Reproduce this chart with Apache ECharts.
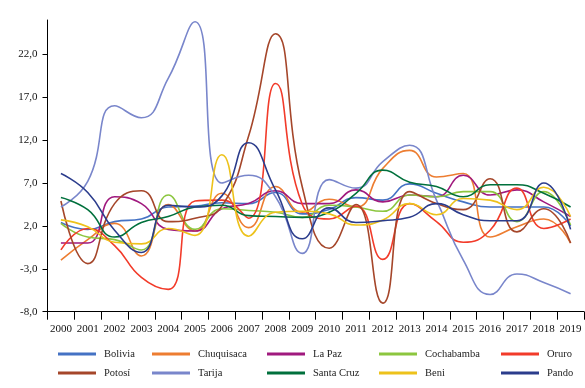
<!DOCTYPE html>
<html>
<head>
<meta charset="utf-8">
<script src="https://cdn.jsdelivr.net/npm/echarts@6/dist/echarts.min.js"></script>
<style>
html,body{margin:0;padding:0;background:#fff;}
#chart{width:585px;height:388px;}
</style>
</head>
<body>
<div id="chart"></div>
<script>
var years = ['2000','2001','2002','2003','2004','2005','2006','2007','2008','2009','2010','2011','2012','2013','2014','2015','2016','2017','2018','2019'];
var yTicks = [-8, -3, 2, 7, 12, 17, 22];

var bolivia    = [2.4, 1.6, 2.5, 2.8, 4.2, 4.3, 4.7, 4.6, 5.9, 3.4, 3.9, 5.3, 5.0, 6.9, 5.8, 4.8, 4.2, 4.2, 4.2, 2.0];
var chuquisaca = [-2.0, 0.4, 2.3, -1.5, 4.5, 1.4, 5.8, 1.8, 6.6, 3.6, 5.1, 4.2, 8.7, 10.8, 7.7, 8.1, 0.7, 1.9, 2.8, 0.0];
var lapaz      = [0.0, 0.0, 5.4, 4.6, 1.6, 1.4, 4.0, 4.6, 6.1, 4.6, 4.6, 6.2, 4.8, 5.6, 5.4, 7.9, 5.6, 6.2, 4.8, 3.1];
var cochabamba = [2.3, 0.7, 0.4, -0.8, 5.6, 1.6, 4.0, 3.8, 3.6, 3.0, 4.4, 4.2, 3.7, 5.6, 5.4, 6.0, 6.0, 2.5, 6.0, 2.1];
var oruro      = [-0.8, 1.7, -0.3, -4.0, -5.4, 4.9, 5.0, 2.9, 18.6, 4.5, 2.8, 4.3, -1.9, 4.6, 2.5, 0.1, 1.5, 6.4, 1.7, 2.8];
var potosi     = [4.9, -2.4, 4.6, 6.1, 2.5, 2.9, 4.3, 12.5, 24.4, 6.5, -0.6, 4.5, -7.0, 6.0, 4.6, 3.9, 7.5, 1.3, 4.0, 0.0];
var tarija     = [4.2, 7.2, 16.0, 14.6, 19.2, 25.8, 7.0, 7.9, 5.4, -1.2, 7.4, 6.4, 9.5, 11.4, 5.0, -2.0, -6.0, -3.6, -4.6, -5.9];
var santacruz  = [5.3, 3.9, 0.7, 2.4, 3.1, 4.2, 4.4, 3.2, 3.1, 3.0, 3.6, 5.8, 8.5, 7.1, 6.6, 5.4, 6.8, 6.8, 5.8, 4.2];
var beni       = [2.7, 1.9, 0.1, -0.1, 1.7, 0.9, 10.3, 0.8, 3.6, 3.7, 3.4, 2.1, 2.7, 4.6, 3.3, 5.2, 5.0, 3.9, 6.5, 3.1];
var pando      = [8.1, 5.9, 1.5, -1.1, 4.4, 4.2, 5.5, 11.7, 6.2, 0.5, 4.1, 2.4, 2.6, 3.0, 4.6, 3.3, 2.6, 2.6, 7.0, 1.6];

var names  = ['Bolivia','Chuquisaca','La Paz','Cochabamba','Oruro','Potosí','Tarija','Santa Cruz','Beni','Pando'];
var values = [bolivia, chuquisaca, lapaz, cochabamba, oruro, potosi, tarija, santacruz, beni, pando];
var colors = ['#4472C4','#ED7D31','#A0197E','#8CC63F','#F23B2A','#A5462A','#7986CB','#00703C','#EDC21B','#2B3C8C'];

var FONT = '"Liberation Serif", "DejaVu Serif", serif';
var legendLeft = [58, 152, 267, 379, 501];
var legendTop = [347, 366];

var legends = names.map(function(n, i){
  return {
    data: [n],
    left: legendLeft[i % 5],
    top: legendTop[Math.floor(i / 5)],
    icon: 'rect',
    itemWidth: 38,
    itemHeight: 3,
    padding: 0,
    selectedMode: false,
    textStyle: {fontFamily: FONT, fontSize: 10.5, color: '#222', lineHeight: 14, padding: [0,0,0,3]}
  };
});

var series = names.map(function(n, i){
  return {
    name: n,
    type: 'line',
    data: values[i],
    smooth: 0.5,
    showSymbol: false,
    symbol: 'none',
    lineStyle: {color: colors[i], width: 1.6},
    itemStyle: {color: colors[i]},
    emphasis: {disabled: true},
    z: 2
  };
});

var chart = echarts.init(document.getElementById('chart'), null, {renderer: 'canvas'});
chart.setOption({
  animation: false,
  backgroundColor: '#fff',
  color: colors,
  legend: legends,
  grid: {left: 47.5, right: 1, top: 20, bottom: 76.3, containLabel: false},
  xAxis: {
    type: 'category',
    data: years,
    boundaryGap: true,
    axisLine: {onZero: false, lineStyle: {color: '#000', width: 1}},
    axisTick: {show: true, length: 8, lineStyle: {color: '#000'}},
    axisLabel: {fontFamily: FONT, fontSize: 11, color: '#111', margin: 12, interval: 0},
    splitLine: {show: false}
  },
  yAxis: {
    type: 'value',
    min: -8,
    max: 26,
    interval: 5,
    axisLine: {show: true, lineStyle: {color: '#000', width: 1}},
    axisTick: {show: true, length: 5, customValues: yTicks, lineStyle: {color: '#000'}},
    axisLabel: {
      fontFamily: FONT, fontSize: 11, color: '#111', margin: 10,
      customValues: yTicks,
      formatter: function(v){ return v.toFixed(1).replace('.', ','); }
    },
    splitLine: {show: false}
  },
  series: series
});
</script>
</body>
</html>
